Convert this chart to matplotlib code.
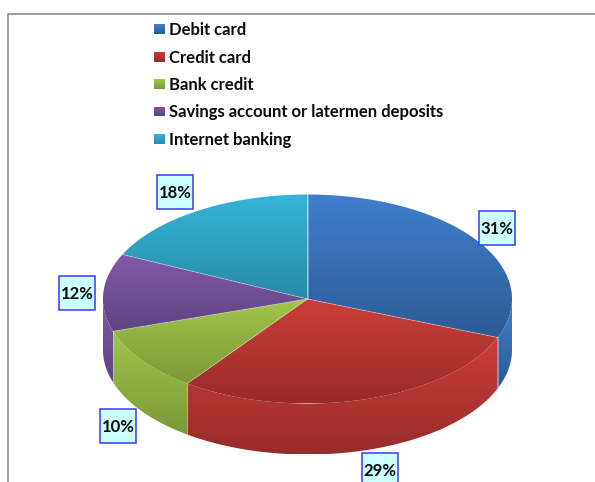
import numpy as np
import matplotlib
matplotlib.use('Agg')
import matplotlib.pyplot as plt
from matplotlib.patches import Polygon, Rectangle

labels = ['Debit card', 'Credit card', 'Bank credit',
          'Savings account or latermen deposits', 'Internet banking']
values = [31, 29, 10, 12, 18]

# light and dark end of the vertical shading for each slice
light = ['#3f7fcc', '#cb3d38', '#a2c64b', '#8459aa', '#35b5da']
dark = ['#2c5b96', '#982c29', '#7b9836', '#5d4480', '#298aa8']

W, H = 595, 482
CX, CY = 307.5, 299
RX, RY = 204.5, 104.5
DEPTH = 51

# label boxes, left/top corner in pixels
box_pos = [(479, 211), (362, 453), (100, 409), (59, 276), (157, 175)]
BOX_W, BOX_H = 36, 34


def rim(a0, a1, dy=0):
    # ellipse points, angle in degrees clockwise from north
    t = np.radians(np.linspace(a0, a1, max(int(abs(a1 - a0)) * 2, 2)))
    return np.column_stack([CX + RX * np.sin(t), CY - RY * np.cos(t) + dy])


def shaded(pts, c0, c1):
    # polygon filled with a top to bottom gradient
    patch = Polygon(pts, closed=True, fc='none', ec='none', transform=ax.transData)
    ax.add_patch(patch)
    rgb0 = np.array(matplotlib.colors.to_rgb(c0))
    rgb1 = np.array(matplotlib.colors.to_rgb(c1))
    f = np.linspace(0, 1, 128)[:, None, None]
    grad = rgb0 * (1 - f) + rgb1 * f
    ext = [pts[:, 0].min(), pts[:, 0].max(), pts[:, 1].max(), pts[:, 1].min()]
    im = ax.imshow(grad, extent=ext, aspect='auto', interpolation='bilinear', zorder=2)
    im.set_clip_path(patch)


fig = plt.figure(figsize=(W / 100, H / 100), dpi=100, facecolor='white')
ax = fig.add_axes([0, 0, 1, 1])
ax.axis('off')

angles = np.concatenate([[0], np.cumsum(values)]) * 3.6

# outer chart border, left and top only are in view
ax.plot([8.3, 8.3, W], [H, 14, 14], color='#8c8c8c', lw=1.2, zorder=1)

# front wall of the disc
for i in range(len(values)):
    a0, a1 = max(angles[i], 90), min(angles[i + 1], 270)
    if a1 <= a0:
        continue
    top = rim(a0, a1)
    bottom = rim(a1, a0, DEPTH)
    shaded(np.vstack([top, bottom]), light[i], dark[i])
    if angles[i] >= 90:
        ax.plot([top[0, 0]] * 2, [top[0, 1], top[0, 1] + DEPTH],
                color='white', alpha=0.35, lw=0.7, zorder=3)

# top face
for i in range(len(values)):
    pts = np.vstack([[[CX, CY]], rim(angles[i], angles[i + 1])])
    shaded(pts, light[i], dark[i])

for a in angles[:-1]:
    p = rim(a, a + 1)[0]
    ax.plot([CX, p[0]], [CY, p[1]], color='white', alpha=0.35, lw=0.7, zorder=3)

# legend
rows = [29, 57, 84, 111.5, 139]
for i, name in enumerate(labels):
    shaded(np.array([[154, rows[i] - 5], [165, rows[i] - 5],
                     [165, rows[i] + 5], [154, rows[i] + 5]]), light[i], dark[i])
    ax.text(169, rows[i] + 1, name, family='Lato', weight='bold', fontsize=12,
            color='#0a0a0a', va='center', ha='left', zorder=4)

# percentage boxes
for i, v in enumerate(values):
    x, y = box_pos[i]
    ax.add_patch(Rectangle((x, y), BOX_W, BOX_H, fc='#ccffff', ec='#3a3af0', lw=1.1, zorder=4))
    ax.text(x + BOX_W / 2, y + BOX_H / 2 + 1, '%d%%' % v, family='Lato', weight='bold',
            fontsize=12, color='#0a0a0a', ha='center', va='center', zorder=5)

ax.set_xlim(0, W)
ax.set_ylim(H, 0)
fig.savefig('out.png', dpi=100)
